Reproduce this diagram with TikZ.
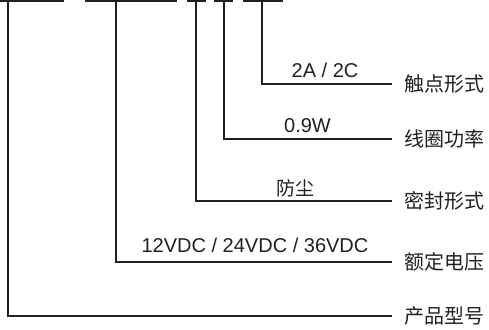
\documentclass[tikz,border=0pt]{standalone}
\usepackage{fontspec}
\setmainfont{Liberation Sans}
\newfontfamily\cjk{Noto Sans CJK SC}
\usetikzlibrary{positioning, calc}
\definecolor{inkgray}{RGB}{35, 31, 32}

\begin{document}
\begin{tikzpicture}[
    x=1pt,
    y=-1pt,
    bar/.style={
        draw=inkgray,
        line width=1.2pt
    },
    lead/.style={draw=inkgray, line width=1.2pt, shorten >=12pt},
    field/.style={
        anchor=west,
        inner sep=0pt,
        text=inkgray,
        font=\cjk\fontsize{20}{24}\selectfont
    },
    value/.style={anchor=base, inner sep=0pt, text=inkgray, font=\fontsize{20}{24}\selectfont},
    valuecjk/.style={value, font=\cjk\fontsize{19}{22}\selectfont}
]
    \useasboundingbox (0,0) rectangle (489,329);

    % Segmentos del modelo
    \draw[bar] (0,1) -- (64,1);
    \draw[bar] (85,1) -- (177,1);
    \draw[bar] (187,1) -- (206,1);
    \draw[bar] (214,1) -- (233,1);
    \draw[bar] (243,1) -- (283,1);

    \coordinate (model) at (8,1);
    \coordinate (voltage) at (116,1);
    \coordinate (seal) at (196,1);
    \coordinate (coil) at (224,1);
    \coordinate (contact) at (262,1);

    % Nodos
    \node[field] (contactlbl) at (404,84) {触点形式};
    \node[field] (coillbl) at (404,139) {线圈功率};
    \node[field] (seallbl) at (404,201) {密封形式};
    \node[field] (voltagelbl) at (404,262) {额定电压};
    \node[field] (modellbl) at (404,316) {产品型号};

    \node[value] (contactval) at (325,77) {2A / 2C};
    \node[value] (coilval) at (307.5,132) {0.9W};
    \node[valuecjk] (sealval) at (295,195) {防尘};
    \node[value] (voltageval) at (255,252.5) {12VDC / 24VDC / 36VDC};

    % Conexiones
    \draw[lead] (contact) |- (contactlbl);
    \draw[lead] (coil) |- (coillbl);
    \draw[lead] (seal) |- (seallbl);
    \draw[lead] (voltage) |- (voltagelbl);
    \draw[lead] (model) |- (modellbl);

\end{tikzpicture}
\end{document}
